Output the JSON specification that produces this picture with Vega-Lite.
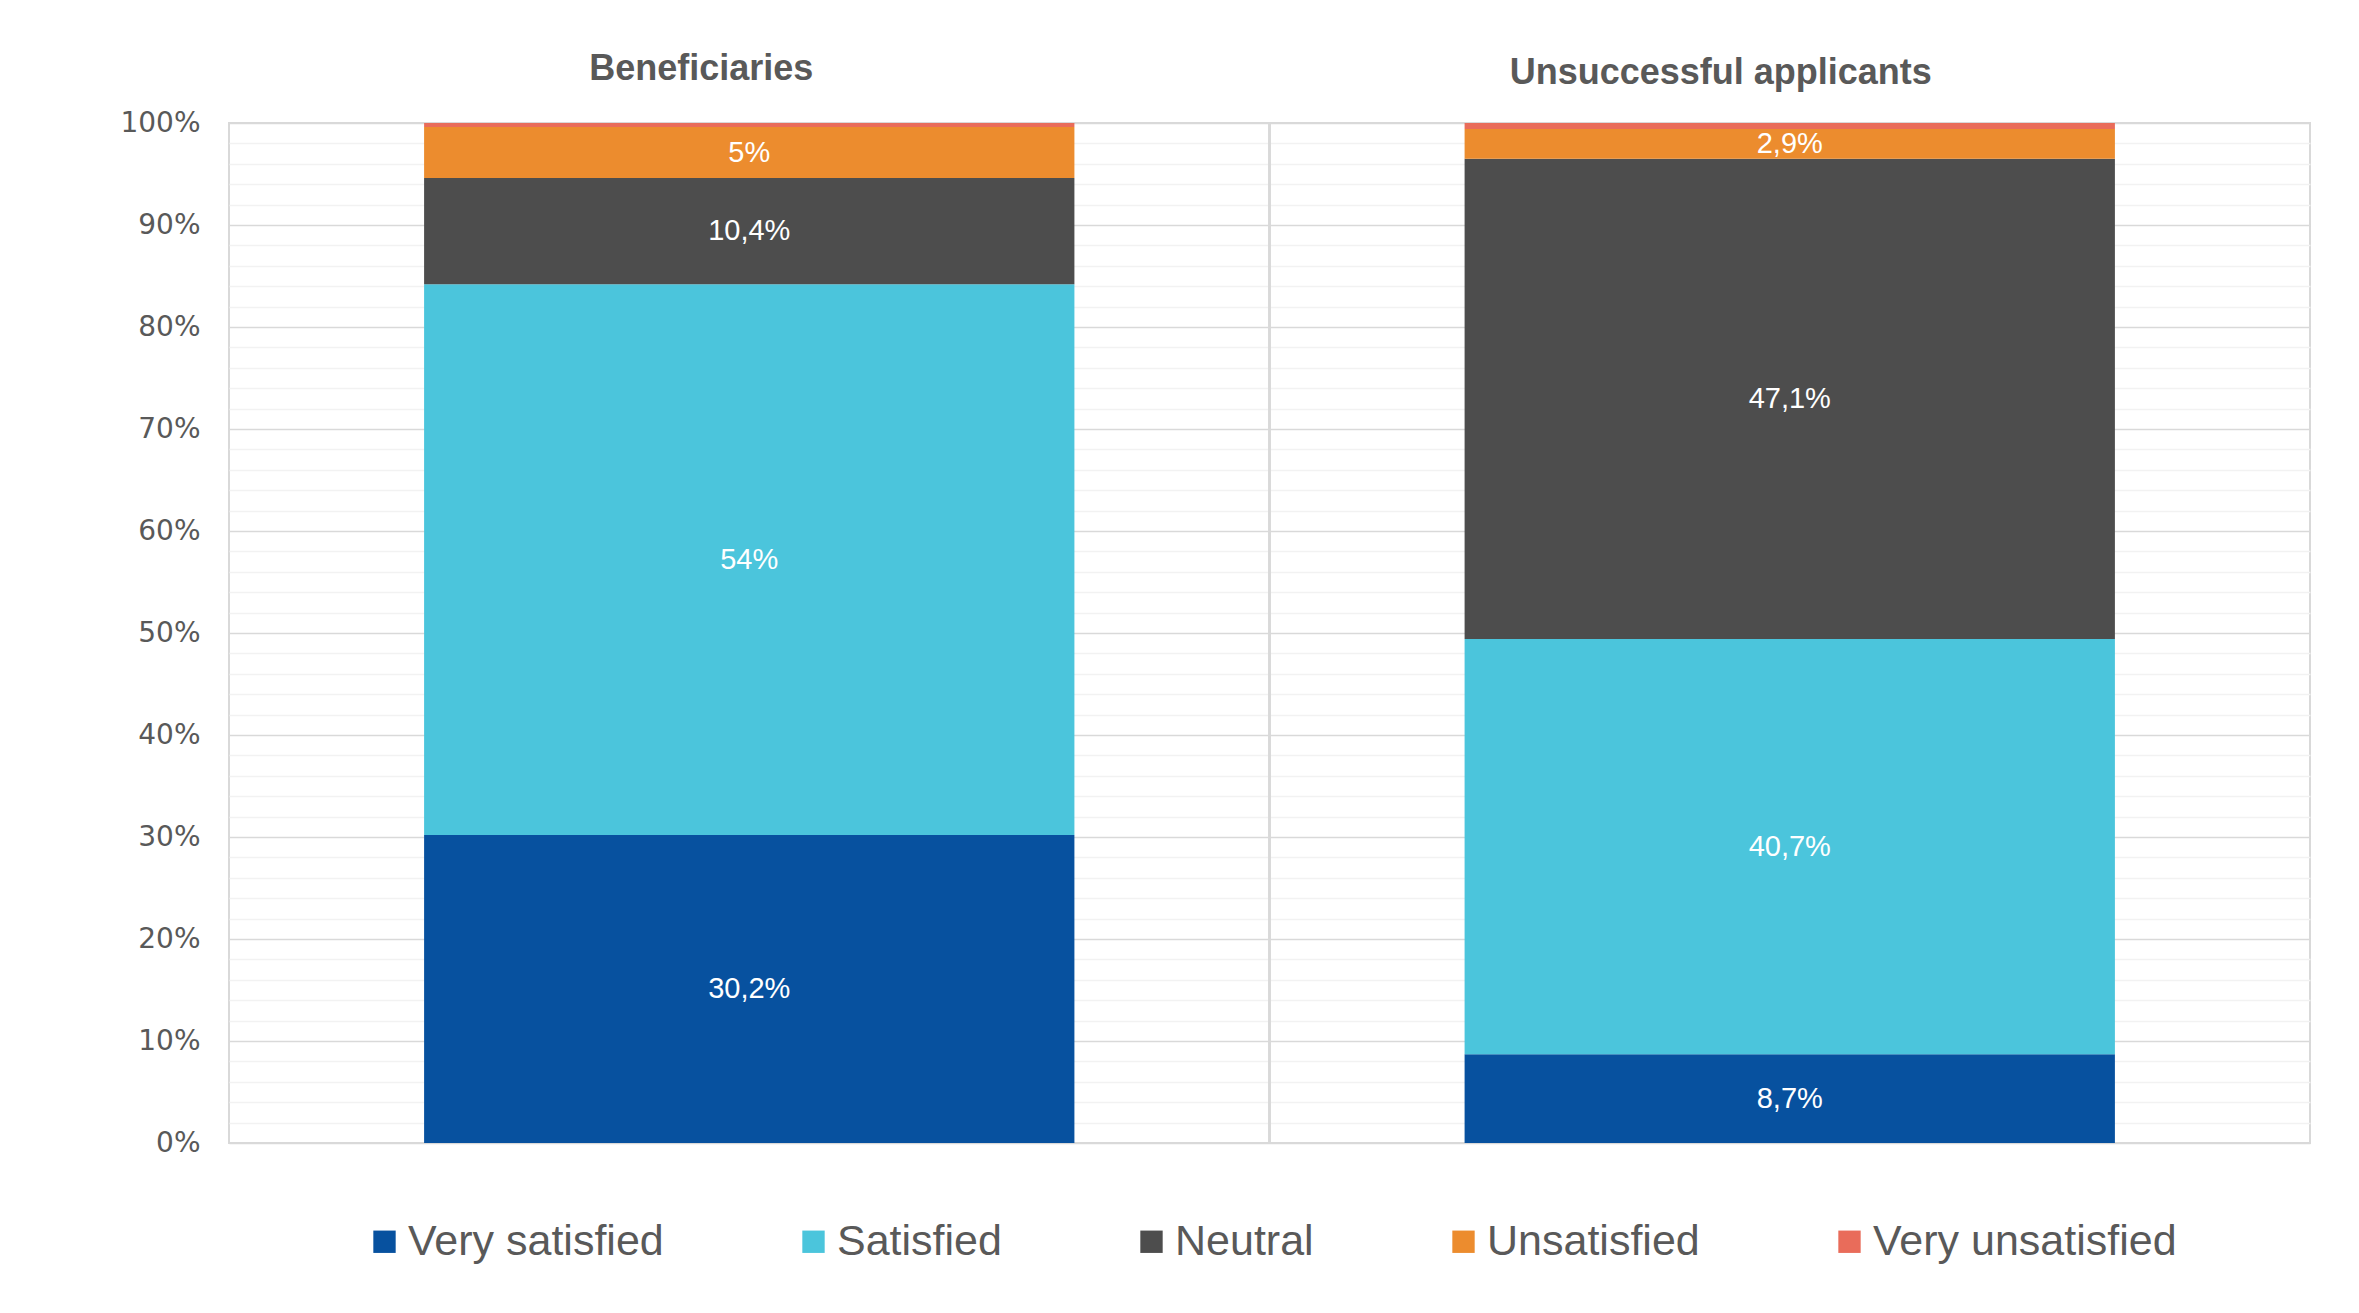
{
  "$schema": "https://vega.github.io/schema/vega-lite/v6.json",
  "autosize": "none",
  "width": 2081,
  "height": 1020,
  "padding": {"left": 229, "top": 123, "right": 49, "bottom": 170},
  "background": "#ffffff",
  "data": {
    "values": [
      {"group": "Beneficiaries", "level": "Very satisfied", "rank": 1, "share": 0.302, "label": "30,2%"},
      {"group": "Beneficiaries", "level": "Satisfied", "rank": 2, "share": 0.540, "label": "54%"},
      {"group": "Beneficiaries", "level": "Neutral", "rank": 3, "share": 0.104, "label": "10,4%"},
      {"group": "Beneficiaries", "level": "Unsatisfied", "rank": 4, "share": 0.050, "label": "5%"},
      {"group": "Beneficiaries", "level": "Very unsatisfied", "rank": 5, "share": 0.004, "label": ""},
      {"group": "Unsuccessful applicants", "level": "Very satisfied", "rank": 1, "share": 0.087, "label": "8,7%"},
      {"group": "Unsuccessful applicants", "level": "Satisfied", "rank": 2, "share": 0.407, "label": "40,7%"},
      {"group": "Unsuccessful applicants", "level": "Neutral", "rank": 3, "share": 0.471, "label": "47,1%"},
      {"group": "Unsuccessful applicants", "level": "Unsatisfied", "rank": 4, "share": 0.029, "label": "2,9%"},
      {"group": "Unsuccessful applicants", "level": "Very unsatisfied", "rank": 5, "share": 0.006, "label": ""}
    ]
  },
  "layer": [
    {
      "mark": {"type": "bar", "width": {"band": 0.625}},
      "encoding": {
        "x": {
          "field": "group", "type": "nominal",
          "scale": {"domain": ["Beneficiaries", "Unsuccessful applicants"], "paddingInner": 0, "paddingOuter": 0},
          "axis": {
            "orient": "top", "title": null, "ticks": false, "tickSize": 0, "domain": false, "grid": false,
            "labelAngle": 0, "labelLimit": 1000,
            "labelFont": "Liberation Sans", "labelFontSize": 36, "labelFontWeight": "bold", "labelColor": "#595959",
            "labelPadding": {"condition": {"test": "datum.value == 'Beneficiaries'", "value": 36}, "value": 32},
            "labelOffset": {"condition": {"test": "datum.value == 'Beneficiaries'", "value": -48}, "value": -69}
          }
        },
        "y": {
          "field": "share", "type": "quantitative", "stack": "zero",
          "scale": {"domain": [0, 1], "nice": false},
          "axis": {
            "orient": "left", "title": null, "format": ".0%",
            "values": [0, 0.1, 0.2, 0.3, 0.4, 0.5, 0.6, 0.7, 0.8, 0.9, 1],
            "ticks": false, "domain": false,
            "grid": true, "gridColor": "#d9d9d9", "gridWidth": 1.5,
            "labelFont": "DejaVu Sans", "labelFontSize": 28, "labelColor": "#595959", "labelPadding": 29,
            "zindex": 0
          }
        },
        "color": {
          "field": "level", "type": "nominal",
          "scale": {
            "domain": ["Very satisfied", "Satisfied", "Neutral", "Unsatisfied", "Very unsatisfied"],
            "range": ["#07519f", "#4bc5dc", "#4d4d4d", "#ec8c2e", "#e96c5a"]
          },
          "legend": {
            "orient": "bottom", "direction": "horizontal", "title": null,
            "offset": 77,
            "symbolType": "square", "symbolSize": 500, "symbolStrokeWidth": 0,
            "labelFont": "Liberation Sans", "labelFontSize": 43, "labelColor": "#595959",
            "labelOffset": 2, "columnPadding": 128, "labelLimit": 600
          }
        },
        "order": {"field": "rank", "type": "quantitative", "sort": "ascending"}
      }
    },
    {
      "mark": {"type": "rule", "color": "#d9d9d9", "strokeWidth": 2},
      "encoding": {
        "x": {"datum": "Unsuccessful applicants", "type": "nominal", "bandPosition": 0}
      }
    },
    {
      "transform": [{"filter": "datum.label != ''"}],
      "mark": {"type": "text", "color": "#ffffff", "font": "Liberation Sans", "fontSize": 29, "baseline": "middle", "align": "center"},
      "encoding": {
        "x": {"field": "group", "type": "nominal"},
        "y": {
          "field": "share", "type": "quantitative", "stack": "zero", "bandPosition": 0.5,
          "axis": {
            "orient": "right", "title": null, "labels": false, "ticks": false, "domain": false,
            "values": [0.02, 0.04, 0.06, 0.08, 0.12, 0.14, 0.16, 0.18, 0.22, 0.24, 0.26, 0.28, 0.32, 0.34, 0.36, 0.38, 0.42, 0.44, 0.46, 0.48, 0.52, 0.54, 0.56, 0.58, 0.62, 0.64, 0.66, 0.68, 0.72, 0.74, 0.76, 0.78, 0.82, 0.84, 0.86, 0.88, 0.92, 0.94, 0.96, 0.98],
            "grid": true, "gridColor": "#f2f2f2", "gridWidth": 1.5, "zindex": 0
          }
        },
        "text": {"field": "label", "type": "nominal"},
        "order": {"field": "rank", "type": "quantitative", "sort": "ascending"}
      }
    }
  ],
  "config": {
    "view": {"stroke": "#d9d9d9", "strokeWidth": 2},
    "legend": {"layout": {"bottom": {"anchor": "middle"}}}
  }
}
